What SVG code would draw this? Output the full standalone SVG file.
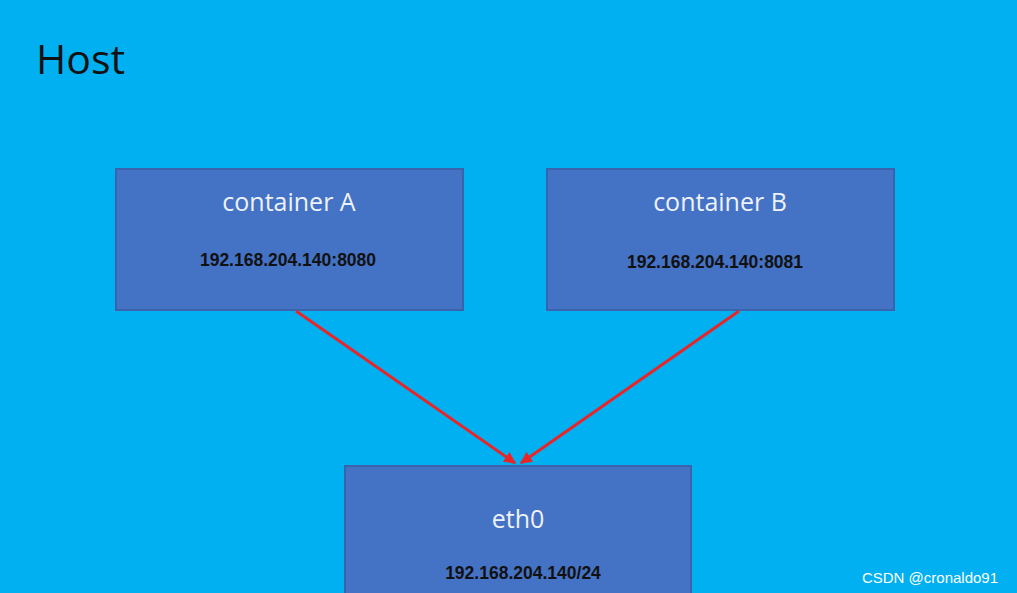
<svg xmlns="http://www.w3.org/2000/svg" width="1017" height="593" viewBox="0 0 1017 593">
<style>
.box{fill:#4472c4;stroke:#3a63ad;stroke-width:2}
.t{font-family:"Open Sans","Liberation Sans",sans-serif;fill:#eef2fa;font-size:25px;text-anchor:middle}
.ip{font-family:"Liberation Sans",sans-serif;font-weight:bold;font-size:17.5px;fill:#111;text-anchor:middle}
.c{stroke:#e8262a;stroke-width:3;fill:none;marker-end:url(#a)}
</style>
<defs><marker id="a" viewBox="0 0 10 10" refX="9" refY="5" markerWidth="4" markerHeight="4" orient="auto"><path d="M0,0L10,5L0,10z" fill="#e8262a"/></marker></defs>
<rect width="1017" height="593" fill="#00b0f0"/>
<text x="36" y="74" font-family="Open Sans,Liberation Sans,sans-serif" font-size="41" fill="#111">Host</text>
<g id="containerA"><rect class="box" x="116" y="169" width="347" height="141"/><text class="t" x="289" y="211">container A</text><text class="ip" x="288" y="266">192.168.204.140:8080</text></g>
<g id="containerB"><rect class="box" x="547" y="169" width="347" height="141"/><text class="t" x="720" y="211">container B</text><text class="ip" x="715" y="268">192.168.204.140:8081</text></g>
<g id="eth0"><rect class="box" x="345" y="466" width="346" height="140"/><text class="t" x="518" y="528">eth0</text><text class="ip" x="523" y="579">192.168.204.140/24</text></g>
<g id="connectors"><line class="c" x1="296" y1="311" x2="515" y2="463"/><line class="c" x1="739" y1="311" x2="521" y2="463"/></g>
<text x="930" y="583" font-family="Liberation Sans,sans-serif" font-size="15" fill="#fff" text-anchor="middle">CSDN @cronaldo91</text>
</svg>
